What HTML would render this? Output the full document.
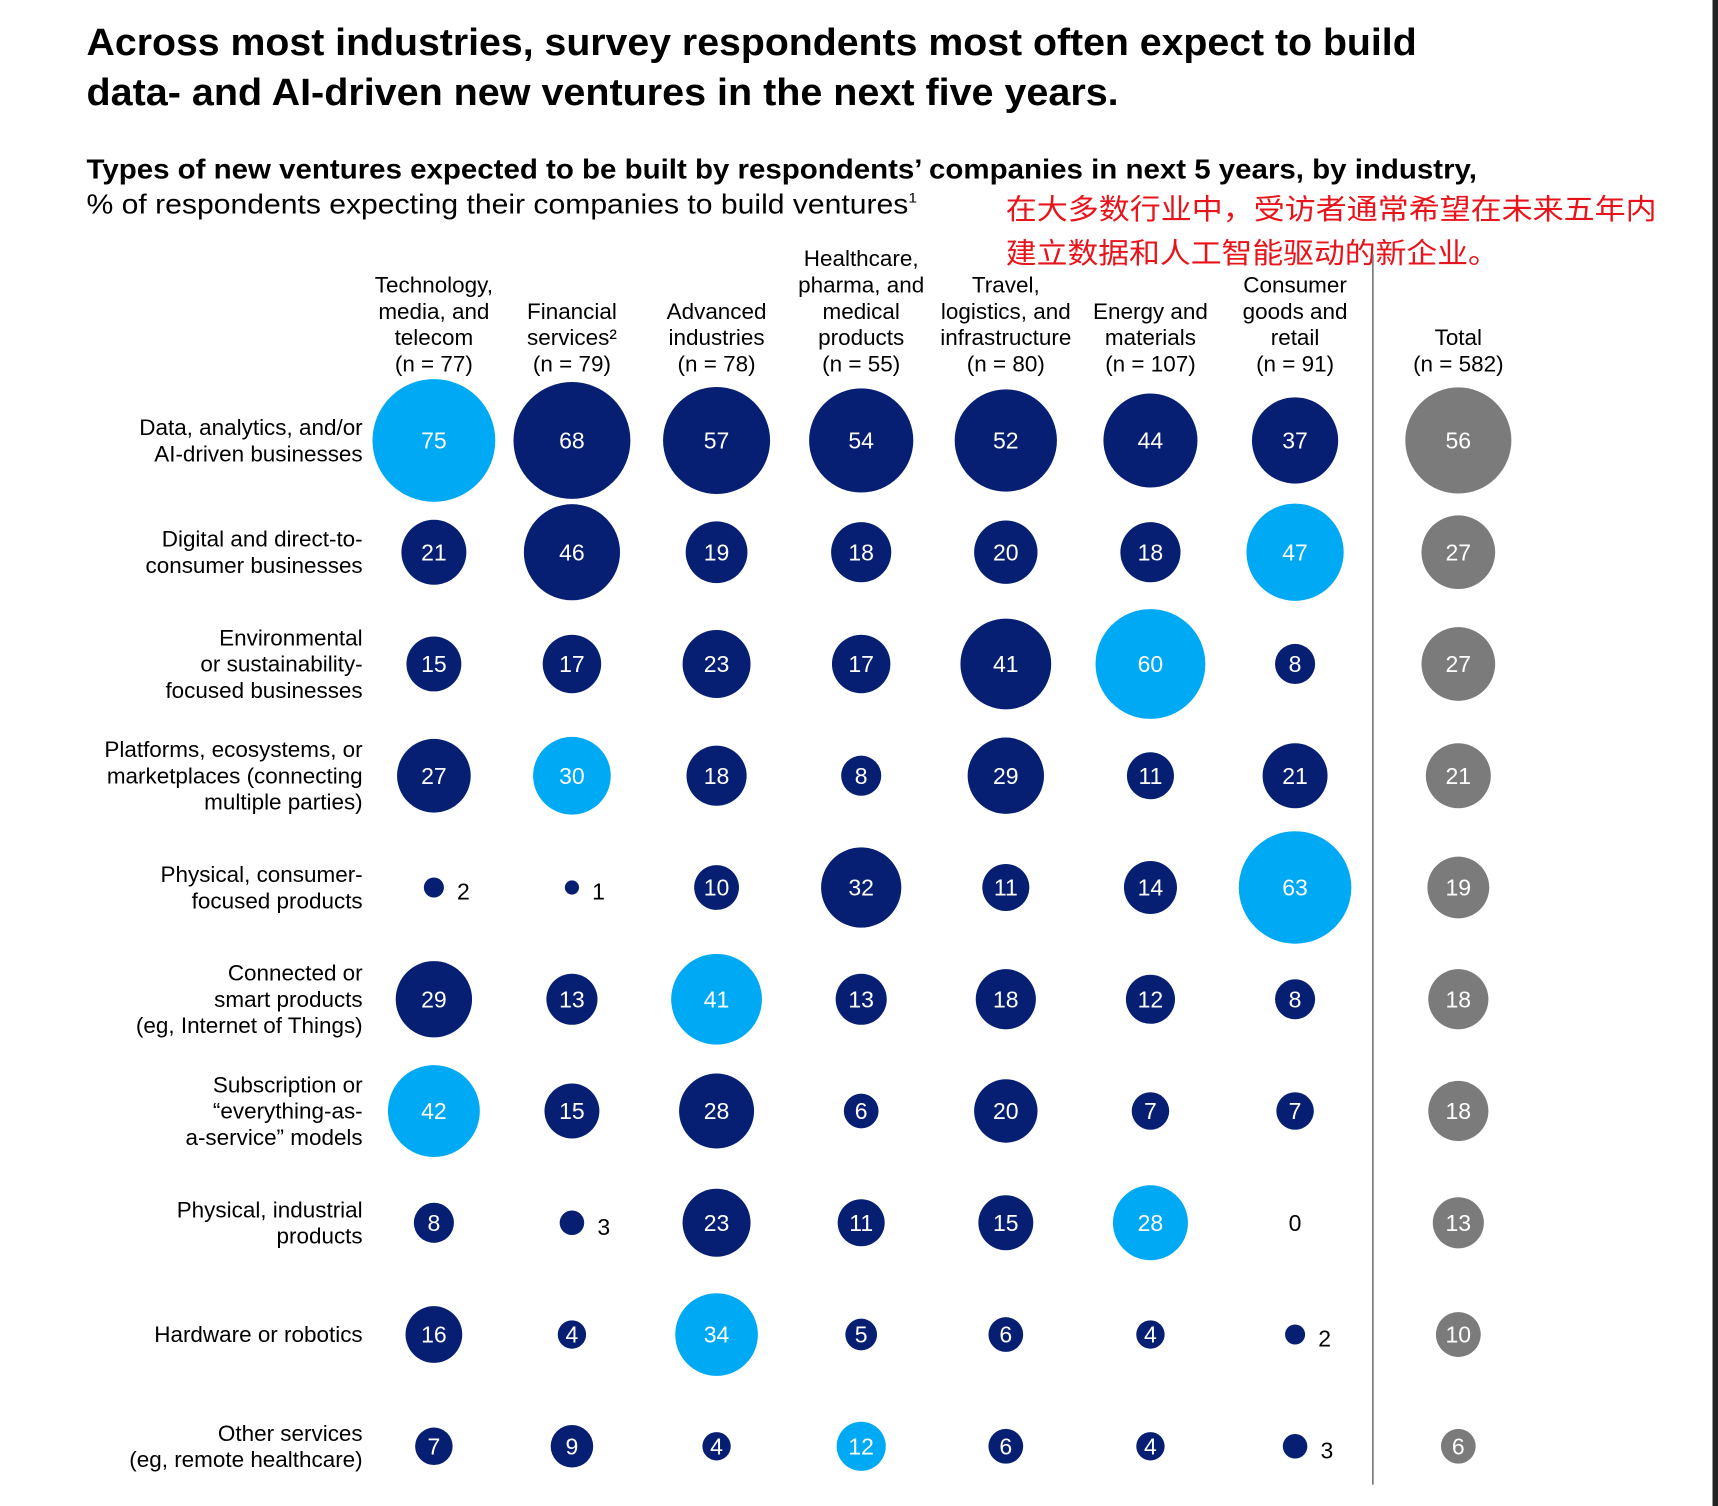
<!DOCTYPE html>
<html><head><meta charset="utf-8"><style>
html,body{margin:0;padding:0;background:#fff;}
svg{display:block;}
text{font-family:"Liberation Sans","Noto Sans CJK SC",sans-serif;}
</style></head><body>
<svg id="chart" width="1718" height="1506" viewBox="0 0 1568 1374.5" xmlns="http://www.w3.org/2000/svg">
<rect x="0" y="0" width="1568" height="1374.5" fill="#fff"/>
<rect x="1563" y="0" width="5" height="1374.5" fill="#222"/>
<g font-weight="bold" font-size="35" fill="#000">
<text x="79" y="50" textLength="1214" lengthAdjust="spacingAndGlyphs">Across most industries, survey respondents most often expect to build</text>
<text x="79" y="96" textLength="942" lengthAdjust="spacingAndGlyphs">data- and AI-driven new ventures in the next five years.</text>
</g>
<text x="79" y="163" font-size="25" font-weight="bold" textLength="1269" lengthAdjust="spacingAndGlyphs">Types of new ventures expected to be built by respondents’ companies in next 5 years, by industry,</text>
<text x="79" y="195" font-size="25" textLength="758" lengthAdjust="spacingAndGlyphs">% of respondents expecting their companies to build ventures<tspan font-size="13" dy="-10">1</tspan></text>
<g font-size="26" fill="#e8141b">
<text x="918" y="200" textLength="594" lengthAdjust="spacingAndGlyphs">在大多数行业中，受访者通常希望在未来五年内</text>
<text x="918" y="240" textLength="450" lengthAdjust="spacingAndGlyphs">建立数据和人工智能驱动的新企业。</text>
</g>
<line x1="1253" y1="232" x2="1253" y2="1355" stroke="#777" stroke-width="1.5"/>
<g id="headers"></g>
<g id="rowlabels"></g>
<g id="bubbles"></g>
</svg>
<script>
const columns = [
  ["Technology,","media, and","telecom","(n = 77)"],
  ["Financial","services²","(n = 79)"],
  ["Advanced","industries","(n = 78)"],
  ["Healthcare,","pharma, and","medical","products","(n = 55)"],
  ["Travel,","logistics, and","infrastructure","(n = 80)"],
  ["Energy and","materials","(n = 107)"],
  ["Consumer","goods and","retail","(n = 91)"],
  ["Total","(n = 582)"]
];
const categories = [
  ["Data, analytics, and/or","AI-driven businesses"],
  ["Digital and direct-to-","consumer businesses"],
  ["Environmental","or sustainability-","focused businesses"],
  ["Platforms, ecosystems, or","marketplaces (connecting","multiple parties)"],
  ["Physical, consumer-","focused products"],
  ["Connected or","smart products","(eg, Internet of Things)"],
  ["Subscription or","“everything-as-","a-service” models"],
  ["Physical, industrial","products"],
  ["Hardware or robotics"],
  ["Other services","(eg, remote healthcare)"]
];
const values = [
  [75,68,57,54,52,44,37],
  [21,46,19,18,20,18,47],
  [15,17,23,17,41,60,8],
  [27,30,18,8,29,11,21],
  [2,1,10,32,11,14,63],
  [29,13,41,13,18,12,8],
  [42,15,28,6,20,7,7],
  [8,3,23,11,15,28,0],
  [16,4,34,5,6,4,2],
  [7,9,4,12,6,4,3]
];
const totals = [56,27,27,21,19,18,18,13,10,6];
const highlights = [[0,0],[1,6],[2,5],[3,1],[4,6],[5,2],[6,0],[7,5],[8,2],[9,3]];

const NS = "http://www.w3.org/2000/svg";
const colX = [396,522,654,786,918,1050,1182,1331];
const xScale = c => colX[c];
const yScale = r => 402 + r * 102;
const rScale = v => 6.47 * Math.sqrt(v);
function mk(tag, attrs) {
  const el = document.createElementNS(NS, tag);
  for (const k in attrs) el.setAttribute(k, attrs[k]);
  return el;
}
const gH = document.getElementById('headers');
columns.forEach((lines, c) => {
  lines.forEach((ln, i) => {
    const t = mk('text', {x: xScale(c), y: 339 - (lines.length - 1 - i) * 24, 'text-anchor': 'middle', 'font-size': 20.5});
    
    
    t.textContent = ln;
    gH.appendChild(t);
  });
});
const gR = document.getElementById('rowlabels');
categories.forEach((lines, r) => {
  lines.forEach((ln, i) => {
    const t = mk('text', {x: 331, y: yScale(r) + (i - (lines.length - 1) / 2) * 24 + 7, 'text-anchor': 'end', 'font-size': 20.5});
    
    
    t.textContent = ln;
    gR.appendChild(t);
  });
});
const gB = document.getElementById('bubbles');
function isHi(r, c) { return highlights.some(h => h[0] === r && h[1] === c); }
function bubble(r, c, v, fill) {
  const cx = xScale(c), cy = yScale(r), rad = rScale(v);
  if (v > 0) {
    const ci = mk('circle', {cx: cx, cy: cy, r: rad, fill: fill});
    
    
    gB.appendChild(ci);
  }
  const inside = v >= 4;
  const t = mk('text', {
    x: inside || v === 0 ? cx : cx + rad + 12,
    y: inside || v === 0 ? cy + 7.5 : cy + 11,
    'text-anchor': inside || v === 0 ? 'middle' : 'start',
    'font-size': 21,
    fill: inside ? '#fff' : '#000'
  });
  
  
  t.textContent = v;
  gB.appendChild(t);
}
values.forEach((row, r) => {
  row.forEach((v, c) => bubble(r, c, v, isHi(r, c) ? '#00a9f4' : '#061f73'));
  bubble(r, 7, totals[r], '#7b7b7b');
});
</script>
</body></html>
